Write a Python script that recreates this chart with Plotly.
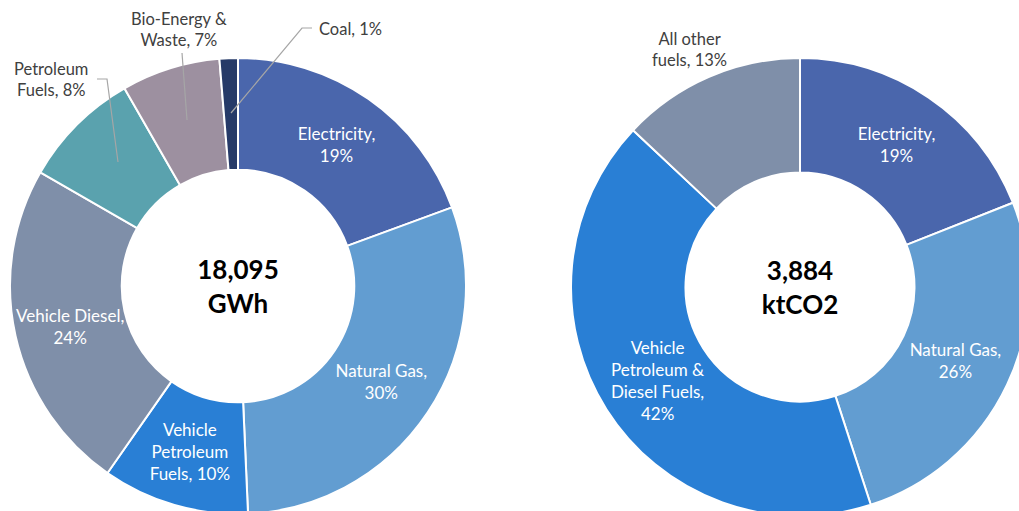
import plotly.graph_objects as go

# ---- data ----
energy_labels = ["Electricity", "Natural Gas", "Vehicle Petroleum Fuels", "Vehicle Diesel",
                 "Petroleum Fuels", "Bio-Energy & Waste", "Coal"]
energy_text = ["Electricity,<br>", "Natural Gas,<br>", "Vehicle<br>Petroleum<br>Fuels, ", "Vehicle Diesel,<br>",
               "Petroleum<br>Fuels, ", "Bio-Energy &<br>Waste, ", "Coal, "]
energy_values = [19.4, 29.9, 10.4, 23.6, 8.4, 7.0, 1.3]
energy_total = 18095
energy_unit = "GWh"

emis_labels = ["Electricity", "Natural Gas", "Vehicle Petroleum & Diesel Fuels", "All other fuels"]
emis_text = ["Electricity,<br>", "Natural Gas,<br>", "Vehicle<br>Petroleum &<br>Diesel Fuels,<br>", "All other<br>fuels, "]
emis_values = [19, 26, 42, 13]
emis_total = 3884
emis_unit = "ktCO2"

# ---- styles ----
energy_colors = ["#4A66AC", "#629DD1", "#297FD5", "#7F8FA9", "#5AA2AE", "#9D90A0", "#263A68"]
emis_colors = ["#4A66AC", "#629DD1", "#297FD5", "#7F8FA9"]
energy_pos = ["inside", "inside", "inside", "none", "none", "none", "none"]
emis_pos = ["inside", "inside", "none", "none"]

W, H = 1040, 520
FONT = "Lato"
IN_SIZE = 17
OUT_SIZE = 16.5

def px(x):
    return x / W

def py(y):
    return 1 - y / H

fig = go.Figure()
fig.add_trace(go.Pie(
    labels=energy_labels, values=energy_values, text=energy_text,
    texttemplate="%{text}%{percent:.0%}", textposition=energy_pos,
    insidetextorientation="horizontal", sort=False, direction="clockwise", rotation=0,
    hole=0.51, marker=dict(colors=energy_colors, line=dict(color="white", width=2)),
    insidetextfont=dict(color="white", size=IN_SIZE, family=FONT),
    domain=dict(x=[px(10), px(466)], y=[py(514), py(58)]),
    title=dict(text=f"<b>{energy_total:,}<br>{energy_unit}</b>", position="middle center",
               font=dict(size=26, color="black", family=FONT)),
    showlegend=False, hoverinfo="label+percent",
))
fig.add_trace(go.Pie(
    labels=emis_labels, values=emis_values, text=emis_text,
    texttemplate="%{text}%{percent:.0%}", textposition=emis_pos,
    insidetextorientation="horizontal", sort=False, direction="clockwise", rotation=0,
    hole=0.50, marker=dict(colors=emis_colors, line=dict(color="white", width=2)),
    insidetextfont=dict(color="white", size=IN_SIZE, family=FONT),
    domain=dict(x=[px(571), px(1029)], y=[py(516), py(58)]),
    title=dict(text=f"<b>{emis_total:,}<br>{emis_unit}</b>", position="middle center",
               font=dict(size=26, color="black", family=FONT)),
    showlegend=False, hoverinfo="label+percent",
))

def pct(vals, i):
    return f"{round(vals[i] / sum(vals) * 100):.0f}%"

# labels placed by hand (outside labels and a few inside labels)
placed = [
    (energy_text[3] + pct(energy_values, 3), 70, 326, "white", IN_SIZE),
    (energy_text[4] + pct(energy_values, 4), 51, 79, "#404040", OUT_SIZE),
    (energy_text[5] + pct(energy_values, 5), 179, 29, "#404040", OUT_SIZE),
    (energy_text[6] + pct(energy_values, 6), 350, 29, "#404040", OUT_SIZE),
    (emis_text[3] + pct(emis_values, 3), 689, 49, "#404040", OUT_SIZE),
    (emis_text[2] + pct(emis_values, 2), 657, 380, "white", IN_SIZE),
]
for t, x, y, c, s in placed:
    fig.add_annotation(text=t, x=px(x), y=py(y), xref="paper", yref="paper",
                       showarrow=False, align="center", xanchor="center", yanchor="middle",
                       font=dict(size=s, color=c, family=FONT))

# leader lines
leaders = [
    [(118, 162), (107, 79), (97, 79)],
    [(187, 120), (182, 53)],
    [(231, 113), (302, 28), (312, 28)],
]
for pts in leaders:
    path = "M " + " L ".join(f"{px(x)},{py(y)}" for x, y in pts)
    fig.add_shape(type="path", path=path, xref="paper", yref="paper",
                  line=dict(color="#A6A6A6", width=1.2))

fig.update_layout(
    width=W, height=H, margin=dict(l=0, r=0, t=0, b=0),
    paper_bgcolor="white", plot_bgcolor="white",
    font=dict(family=FONT),
    uniformtext=dict(minsize=IN_SIZE, mode="show"),
)

post = """
document.documentElement.style.overflow='hidden';
document.body.style.margin='0';
document.body.style.overflow='hidden';
var gd=document.getElementById('{plot_id}');
gd.parentElement.style.width='1019px';
gd.parentElement.style.height='511px';
gd.parentElement.style.overflow='hidden';
"""
fig.write_html("out.html", post_script=post, config={"displayModeBar": False})
